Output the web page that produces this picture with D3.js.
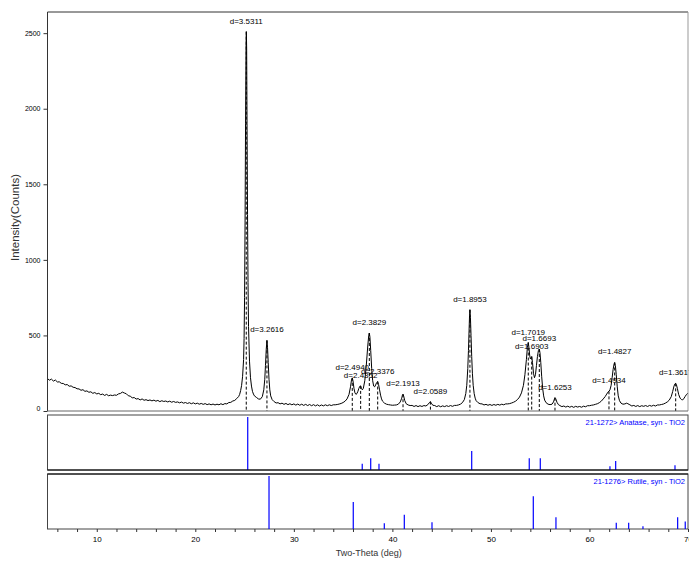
<!DOCTYPE html>
<html><head><meta charset="utf-8">
<script src="https://cdn.jsdelivr.net/npm/d3@7"></script>
<style>body{margin:0;background:#fff}svg{display:block}</style>
</head><body><svg id="c" width="689" height="561"></svg>
<script>
// ---- data ----
const twoTheta = [5.0,5.2,5.4,5.6,5.8,6.0,6.2,6.4,6.6,6.8,7.0,7.2,7.4,7.6,7.8,8.0,8.2,8.4,8.6,8.8,9.0,9.2,9.4,9.6,9.8,10.0,10.2,10.4,10.6,10.8,11.0,11.2,11.4,11.6,11.8,12.0,12.2,12.4,12.6,12.8,13.0,13.2,13.4,13.6,13.8,14.0,14.2,14.4,14.6,14.8,15.0,15.2,15.4,15.6,15.8,16.0,16.2,16.4,16.6,16.8,17.0,17.2,17.4,17.6,17.8,18.0,18.2,18.4,18.6,18.8,19.0,19.2,19.4,19.6,19.8,20.0,20.2,20.4,20.6,20.8,21.0,21.2,21.4,21.6,21.8,22.0,22.2,22.4,22.6,22.8,23.0,23.2,23.4,23.6,23.8,24.0,24.2,24.4,24.5,24.6,24.7,24.8,24.9,24.95,25.0,25.05,25.1,25.15,25.18,25.21,25.25,25.3,25.35,25.4,25.5,25.6,25.7,25.8,25.9,26.0,26.2,26.4,26.6,26.8,26.95,27.05,27.12,27.2,27.27,27.33,27.4,27.48,27.56,27.65,27.8,28.0,28.2,28.4,28.6,28.8,29.0,29.2,29.4,29.6,29.8,30.0,30.2,30.4,30.6,30.8,31.0,31.2,31.4,31.6,31.8,32.0,32.2,32.4,32.6,32.8,33.0,33.2,33.4,33.6,33.8,34.0,34.2,34.4,34.6,34.8,35.0,35.2,35.4,35.6,35.75,35.85,35.93,36.0,36.1,36.2,36.3,36.4,36.5,36.6,36.7,36.78,36.86,36.95,37.05,37.2,37.35,37.5,37.6,37.66,37.72,37.8,37.9,38.0,38.1,38.2,38.3,38.4,38.51,38.6,38.7,38.8,38.9,39.0,39.2,39.4,39.6,39.8,40.0,40.2,40.4,40.6,40.8,40.95,41.02,41.08,41.15,41.25,41.4,41.6,41.8,42.0,42.2,42.4,42.6,42.8,43.0,43.2,43.4,43.6,43.75,43.86,43.95,44.1,44.3,44.5,44.7,44.9,45.1,45.3,45.5,45.7,45.9,46.1,46.3,46.5,46.7,46.9,47.1,47.3,47.45,47.55,47.65,47.72,47.78,47.83,47.87,47.92,47.98,48.05,48.12,48.2,48.3,48.4,48.5,48.7,48.9,49.1,49.3,49.5,49.7,49.9,50.1,50.3,50.5,50.7,50.9,51.1,51.3,51.5,51.7,51.9,52.1,52.3,52.5,52.7,52.9,53.1,53.3,53.45,53.6,53.7,53.79,53.86,53.93,54.0,54.07,54.14,54.22,54.32,54.42,54.52,54.62,54.72,54.82,54.91,54.98,55.06,55.15,55.25,55.35,55.45,55.6,55.8,56.0,56.2,56.35,56.45,56.5,56.57,56.7,56.85,57.0,57.2,57.4,57.6,57.8,58.0,58.2,58.4,58.6,58.8,59.0,59.2,59.4,59.6,59.8,60.0,60.2,60.4,60.6,60.8,61.0,61.2,61.4,61.6,61.75,61.88,61.98,62.08,62.2,62.3,62.4,62.5,62.56,62.63,62.72,62.82,62.92,63.05,63.2,63.4,63.6,63.78,63.9,64.1,64.3,64.5,64.7,64.9,65.1,65.3,65.5,65.7,65.9,66.1,66.3,66.5,66.7,66.9,67.1,67.3,67.5,67.7,67.9,68.1,68.3,68.45,68.58,68.68,68.75,68.82,68.92,69.05,69.2,69.35,69.45,69.55,69.7,69.85,70.0];
const counts = [214,204,211,198,205,192,193,183,182,173,175,164,166,157,155,147,146,137,141,130,133,124,127,117,122,113,117,108,112,103,110,101,105,102,106,104,113,116,125,119,114,101,98,87,89,79,82,73,80,71,75,69,73,67,72,65,70,62,68,63,66,60,65,58,63,57,60,54,59,52,56,50,55,48,54,47,52,45,50,44,49,42,47,41,46,40,45,41,48,42,49,47,56,57,66,70,82,96,110,135,170,230,340,480,750,1250,1900,2420,2510,2400,1900,1300,850,560,330,220,165,130,112,100,90,80,78,95,140,210,300,410,467,420,320,210,140,100,75,62,53,55,47,52,44,50,42,48,41,47,39,46,38,45,37,44,36,43,35,42,34,41,33,40,34,41,35,41,36,41,41,43,46,50,56,65,80,110,160,205,219,200,150,120,110,115,130,150,164,166,150,140,150,200,300,430,500,516,490,400,280,200,165,160,172,188,195,175,140,105,80,65,52,45,42,40,38,39,40,45,60,85,105,111,98,70,48,40,36,37,30,36,29,35,30,36,33,42,55,62,52,38,36,29,35,28,34,29,35,30,36,31,37,37,40,45,55,75,115,170,280,400,530,630,670,620,500,360,250,170,115,85,68,55,48,47,40,44,38,43,37,43,38,44,39,45,41,47,47,49,53,58,65,76,92,120,170,240,340,420,453,420,370,345,352,360,320,250,220,240,300,360,400,410,385,320,230,150,100,72,55,45,42,45,60,80,88,82,58,42,36,29,33,26,32,25,31,24,31,26,30,25,32,28,35,35,38,40,44,48,55,65,80,96,112,125,130,140,170,220,275,312,321,300,240,160,100,68,52,45,47,52,48,41,33,37,30,36,29,35,31,36,30,37,32,38,33,40,40,43,46,52,60,72,95,130,165,180,183,175,150,110,85,75,73,80,95,110,118];

const peakPos = [25.17,27.27,35.93,36.78,37.66,38.51,41.08,43.86,47.87,53.79,54.14,54.91,56.5,61.98,62.56,68.75];
const peakInt = [2510,467,219,166,516,195,111,62,670,453,360,410,88,130,321,183];
const peakLabels = ["d=3.5311","d=3.2616","d=2.4940","d=2.4352","d=2.3829","d=2.3376","d=2.1913","d=2.0589","d=1.8953","d=1.7019","d=1.6903","d=1.6693","d=1.6253","d=1.4934","d=1.4827","d=1.3617"];

const anatasePos = [25.32,36.94,37.80,38.64,48.05,53.89,55.01,62.08,62.66,68.68];
const anataseInt = [100,12,22,12,36,22,22,7,17,9];
const anataseName = "21-1272> Anatase, syn - TiO2";
const rutilePos = [27.48,36.03,39.18,41.21,44.02,54.30,56.60,62.72,63.98,65.43,68.95,69.72];
const rutileInt = [100,51,11,27,13,62,22,12,12,5,22,14];
const rutileName = "21-1276> Rutile, syn - TiO2";

const yTicks = [0,500,1000,1500,2000,2500];
const xLabelTicks = [10,20,30,40,50,60,70];
const xTitle = "Two-Theta (deg)";
const yTitle = "Intensity(Counts)";

// ---- layout ----
const L = 47.5, R = 688;
const mainTop = 12, mainBot = 411;
const p1Top = 415, p1Bot = 470;
const p2Top = 474, p2Bot = 529;
const svg = d3.select("#c");
const font = "Arial, 'Liberation Sans', sans-serif";

const x = d3.scaleLinear().domain([5,70]).range([L,R]);
const y = d3.scaleLinear().domain([0,2640]).range([mainBot,mainTop]);
const yA = d3.scaleLinear().domain([0,104]).range([p1Bot,p1Top]);
const yR = d3.scaleLinear().domain([0,104]).range([p2Bot,p2Top]);

svg.append("defs").append("clipPath").attr("id","mc")
  .append("rect").attr("x",L).attr("y",mainTop).attr("width",R-L).attr("height",mainBot-mainTop);

// dashed peak markers
svg.append("g").selectAll("line").data(peakPos).join("line")
  .attr("x1",d=>x(d)).attr("x2",d=>x(d))
  .attr("y1",(d,i)=>y(peakInt[i])).attr("y2",y(0))
  .attr("stroke","#000").attr("stroke-width",1).attr("stroke-dasharray","3,2");

// pattern curve
const pts = twoTheta.map((t,i)=>[t,counts[i]]);
svg.append("path").datum(pts).attr("clip-path","url(#mc)")
  .attr("fill","none").attr("stroke","#000").attr("stroke-width",1)
  .attr("d", d3.line().x(d=>x(d[0])).y(d=>y(d[1])));

// peak labels
svg.append("g").selectAll("text").data(peakLabels).join("text")
  .attr("x",(d,i)=>x(peakPos[i])).attr("y",(d,i)=>y(peakInt[i])-8)
  .attr("text-anchor","middle").attr("font-family",font).attr("font-size",8)
  .attr("fill","#000").text(d=>d);

// main frame
svg.append("path").attr("d",`M${L},${mainBot}V${mainTop}H${R}`).attr("fill","none").attr("stroke","#333").attr("stroke-width",1);
svg.append("line").attr("x1",R).attr("x2",R).attr("y1",mainTop).attr("y2",mainBot).attr("stroke","#999");
svg.append("line").attr("x1",L).attr("x2",R).attr("y1",mainBot).attr("y2",mainBot).attr("stroke","#666");

// y axis
const ya = svg.append("g").attr("transform",`translate(${L},0)`)
  .call(d3.axisLeft(y).tickValues(yTicks).tickSize(4).tickSizeOuter(0).tickFormat(d3.format("d")));
ya.select(".domain").remove();
ya.selectAll("line").attr("stroke","#333");
ya.selectAll("text").attr("font-family",font).attr("font-size",7).attr("fill","#000");
ya.selectAll(".tick").filter(d=>d===0).select("text").attr("dy","-0.05em");

svg.append("text").attr("transform",`translate(19,${(mainTop+mainBot)/2+6}) rotate(-90)`)
  .attr("text-anchor","middle").attr("font-family",font).attr("font-size",11.5).attr("fill","#333").text(yTitle);

// panels
function panel(top,bot,ys,pos,ints,name){
  svg.append("rect").attr("x",L).attr("y",top).attr("width",R-L).attr("height",bot-top)
    .attr("fill","none").attr("stroke","#444").attr("stroke-width",1);
  svg.append("g").selectAll("line").data(pos).join("line")
    .attr("x1",d=>x(d)).attr("x2",d=>x(d))
    .attr("y1",(d,i)=>ys(ints[i])).attr("y2",ys(0))
    .attr("stroke","#0000ff").attr("stroke-width",1.2);
  svg.append("text").attr("x",R-3).attr("y",top+10).attr("text-anchor","end")
    .attr("font-family",font).attr("font-size",7.5).attr("fill","#0000ff").text(name);
}
panel(p1Top,p1Bot,yA,anatasePos,anataseInt,anataseName);
panel(p2Top,p2Bot,yR,rutilePos,rutileInt,rutileName);
svg.append("line").attr("x1",L).attr("x2",R).attr("y1",p1Bot).attr("y2",p1Bot).attr("stroke","#000");
svg.append("line").attr("x1",L).attr("x2",R).attr("y1",p2Top).attr("y2",p2Top).attr("stroke","#000");

// x axis
const xa = svg.append("g").attr("transform",`translate(0,${p2Bot})`)
  .call(d3.axisBottom(x).tickValues(d3.range(6,71,2)).tickSize(3).tickSizeOuter(0)
    .tickFormat(d=>xLabelTicks.includes(d)?d:""));
xa.select(".domain").remove();
xa.selectAll("line").attr("stroke","#333");
xa.selectAll("text").attr("font-family",font).attr("font-size",8).attr("fill","#000").attr("dy","0.9em");

svg.append("text").attr("x",(L+R)/2+1).attr("y",556).attr("text-anchor","middle")
  .attr("font-family",font).attr("font-size",9).attr("fill","#333").text(xTitle);
</script></body></html>
